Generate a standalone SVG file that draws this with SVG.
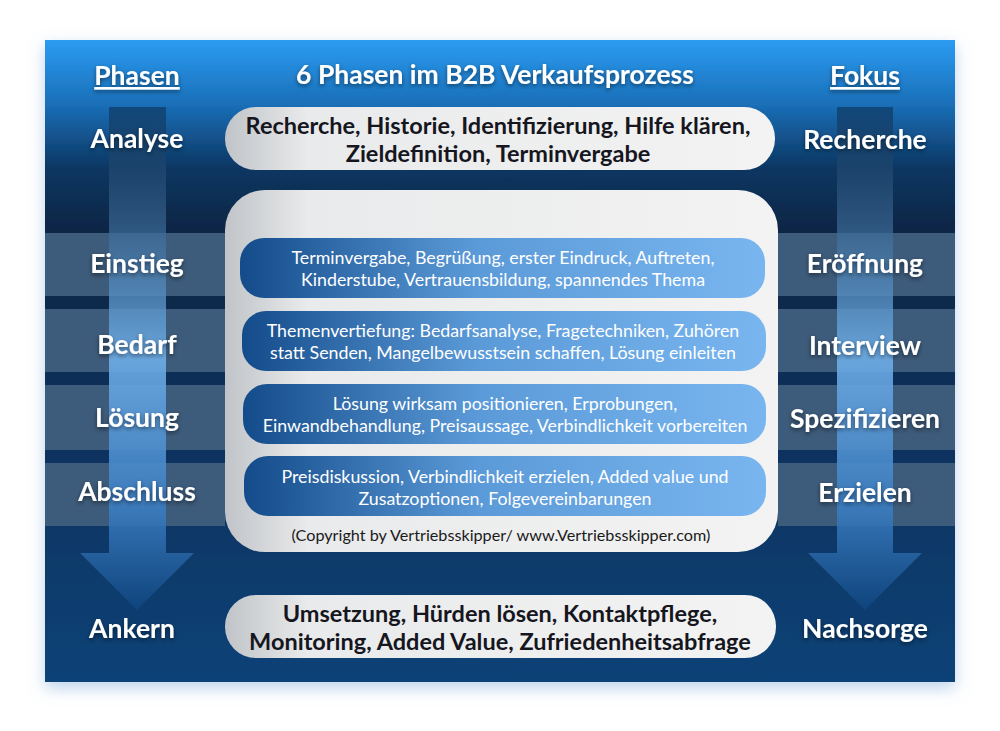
<svg xmlns="http://www.w3.org/2000/svg" width="1000" height="731" viewBox="0 0 1000 731">
<defs>
<linearGradient id="bg" x1="0" y1="0" x2="0" y2="1">
<stop offset="0" stop-color="#2b9cf2"/><stop offset="0.1" stop-color="#1a6fb8"/><stop offset="0.2" stop-color="#0c3662"/><stop offset="0.3" stop-color="#072544"/><stop offset="0.55" stop-color="#0a2f58"/><stop offset="1" stop-color="#0f4277"/>
</linearGradient>
<linearGradient id="pill" x1="0" y1="0" x2="1" y2="0">
<stop offset="0" stop-color="#c0c4c8"/><stop offset="0.15" stop-color="#e9eaeb"/><stop offset="1" stop-color="#f3f3f3"/>
</linearGradient>
<linearGradient id="blue" x1="0" y1="0" x2="1" y2="0">
<stop offset="0" stop-color="#144b8a"/><stop offset="0.45" stop-color="#5b9ad8"/><stop offset="1" stop-color="#79b6f0"/>
</linearGradient>
<linearGradient id="arr" x1="0" y1="0" x2="0" y2="1">
<stop offset="0" stop-color="#0c2a4a" stop-opacity="0.6"/><stop offset="0.5" stop-color="#6eaee8"/><stop offset="0.8" stop-color="#3a7cc0"/><stop offset="1" stop-color="#0f457e"/>
</linearGradient>
<filter id="sh" x="-10%" y="-10%" width="120%" height="130%"><feDropShadow dx="0" dy="2" stdDeviation="2" flood-color="#000" flood-opacity="0.5"/></filter>
<filter id="ps" x="-5%" y="-5%" width="110%" height="115%"><feDropShadow dx="0" dy="6" stdDeviation="8" flood-color="#7aa8d8" flood-opacity="0.5"/></filter>
</defs>
<style>
text{font-family:Lato,"Open Sans","Liberation Sans",sans-serif;text-anchor:middle}
.h{font-size:26.5px;font-weight:bold;fill:#fff;filter:url(#sh)}
.d{font-size:23.5px;font-weight:bold;fill:#16161e}
.w{font-size:17.8px;fill:#fff}
.band{fill:#3d5b7a}
</style>
<rect x="0" y="0" width="1000" height="731" fill="#fff"/>
<g id="panel"><rect x="45" y="40" width="910" height="642" fill="url(#bg)" filter="url(#ps)"/>
<rect class="band" x="45" y="233" width="180" height="63"/><rect class="band" x="45" y="309" width="180" height="63"/><rect class="band" x="45" y="385" width="180" height="65"/><rect class="band" x="45" y="463" width="180" height="63"/>
<rect class="band" x="778" y="233" width="177" height="63"/><rect class="band" x="778" y="309" width="177" height="63"/><rect class="band" x="778" y="385" width="177" height="65"/><rect class="band" x="778" y="463" width="177" height="63"/>
</g>
<g id="arrows">
<path d="M109 107H166V553H194L137 610L80 553H109Z" fill="url(#arr)" opacity="0.9"/>
<path d="M837 107H893V553H922L865 610L808 553H837Z" fill="url(#arr)" opacity="0.9"/>
</g>
<g id="title"><text class="h" x="495" y="84">6 Phasen im B2B Verkaufsprozess</text></g>
<g id="heads">
<text class="h" x="137" y="85" text-decoration="underline">Phasen</text>
<text class="h" x="865" y="85" text-decoration="underline">Fokus</text>
</g>
<g id="left">
<text class="h" x="137" y="148">Analyse</text><text class="h" x="137" y="273">Einstieg</text><text class="h" x="137" y="354">Bedarf</text><text class="h" x="137" y="427">Lösung</text><text class="h" x="137" y="501">Abschluss</text><text class="h" x="132" y="638">Ankern</text>
</g>
<g id="right">
<text class="h" x="865" y="149">Recherche</text><text class="h" x="865" y="273">Eröffnung</text><text class="h" x="865" y="355">Interview</text><text class="h" x="865" y="428">Spezifizieren</text><text class="h" x="865" y="502">Erzielen</text><text class="h" x="865" y="638">Nachsorge</text>
</g>
<g id="top"><rect x="225" y="107" width="550" height="63" rx="31" fill="url(#pill)"/>
<text class="d" x="498" y="134">Recherche, Historie, Identifizierung, Hilfe klären,</text><text class="d" x="498" y="162">Zieldefinition, Terminvergabe</text></g>
<g id="center"><rect x="225" y="190" width="553" height="362" rx="40" fill="url(#pill)"/>
<text x="501" y="541" font-size="16.2" fill="#1a1a1a">(Copyright by Vertriebsskipper/ www.Vertriebsskipper.com)</text></g>
<g id="p1"><rect x="240" y="238" width="525" height="60" rx="24" fill="url(#blue)"/><text class="w" x="503" y="264">Terminvergabe, Begrüßung, erster Eindruck, Auftreten,</text><text class="w" x="503" y="286">Kinderstube, Vertrauensbildung, spannendes Thema</text></g>
<g id="p2"><rect x="242" y="311" width="524" height="60" rx="24" fill="url(#blue)"/><text class="w" x="503" y="337">Themenvertiefung: Bedarfsanalyse, Fragetechniken, Zuhören</text><text class="w" x="503" y="359">statt Senden, Mangelbewusstsein schaffen, Lösung einleiten</text></g>
<g id="p3"><rect x="243" y="384" width="523" height="60" rx="24" fill="url(#blue)"/><text class="w" x="505" y="410">Lösung wirksam positionieren, Erprobungen,</text><text class="w" x="505" y="432">Einwandbehandlung, Preisaussage, Verbindlichkeit vorbereiten</text></g>
<g id="p4"><rect x="244" y="456" width="522" height="60" rx="24" fill="url(#blue)"/><text class="w" x="505" y="483">Preisdiskussion, Verbindlichkeit erzielen, Added value und</text><text class="w" x="505" y="505">Zusatzoptionen, Folgevereinbarungen</text></g>
<g id="bottom"><rect x="225" y="595" width="551" height="63" rx="31" fill="url(#pill)"/>
<text class="d" x="500" y="622">Umsetzung, Hürden lösen, Kontaktpflege,</text><text class="d" x="500" y="650">Monitoring, Added Value, Zufriedenheitsabfrage</text></g>
</svg>
